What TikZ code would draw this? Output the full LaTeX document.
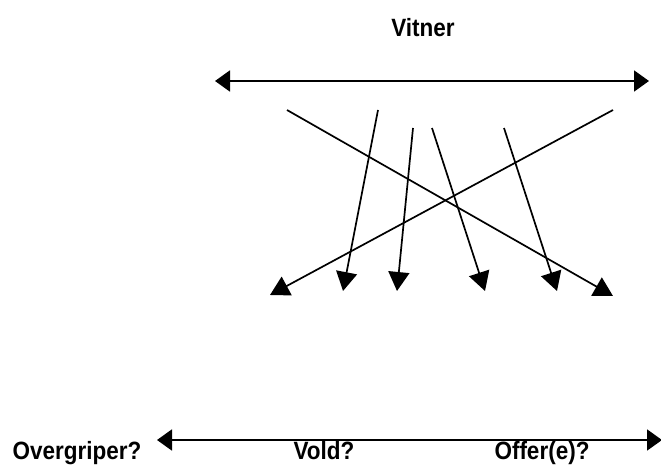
\documentclass[tikz,border=0pt]{standalone}
\usepackage{fontspec}
\setmainfont{Liberation Sans}
\newfontfamily\narrowbold[FakeStretch=0.9]{Liberation Sans Bold}
\usetikzlibrary{arrows.meta}
\begin{document}
\begin{tikzpicture}[x=1pt,y=-1pt,
  lbl/.style={font=\fontsize{25}{29}\narrowbold, inner sep=0pt, anchor=base},
  dbl/.style={line width=2pt, {Triangle[length=15pt,width=21pt]}-{Triangle[length=15pt,width=21pt]}},
  arr/.style={line width=1.7pt, -{Triangle[length=19pt,width=21pt]}}]
\useasboundingbox (0,0) rectangle (661,468);
% texts
\node[lbl] (vitner) at (423,37) {Vitner};
\node[lbl] (over) at (77,459) {Overgriper?};
\node[lbl] (vold) at (324,459) {Vold?};
\node[lbl] (offer) at (542,459) {Offer(e)?};
% top double arrow
\coordinate (tl) at (215,81);
\coordinate (tr) at (649,81);
\draw[dbl] (tl) -- (tr);
% bottom double arrow
\coordinate (bl) at (157,440);
\coordinate (br) at (662,440);
\draw[dbl] (bl) -- (br);
% diagonal arrows
\coordinate (s1) at (287,110); \coordinate (e1) at (613,296);
\coordinate (s2) at (613,110); \coordinate (e2) at (270,295);
\coordinate (s3) at (378,110); \coordinate (e3) at (343,291);
\coordinate (s4) at (413,128); \coordinate (e4) at (397,291);
\coordinate (s5) at (432,128); \coordinate (e5) at (485,291);
\coordinate (s6) at (504,128); \coordinate (e6) at (557,291);
\draw[arr] (s1) -- (e1);
\draw[arr] (s2) -- (e2);
\draw[arr] (s3) -- (e3);
\draw[arr] (s4) -- (e4);
\draw[arr] (s5) -- (e5);
\draw[arr] (s6) -- (e6);
\end{tikzpicture}
\end{document}
